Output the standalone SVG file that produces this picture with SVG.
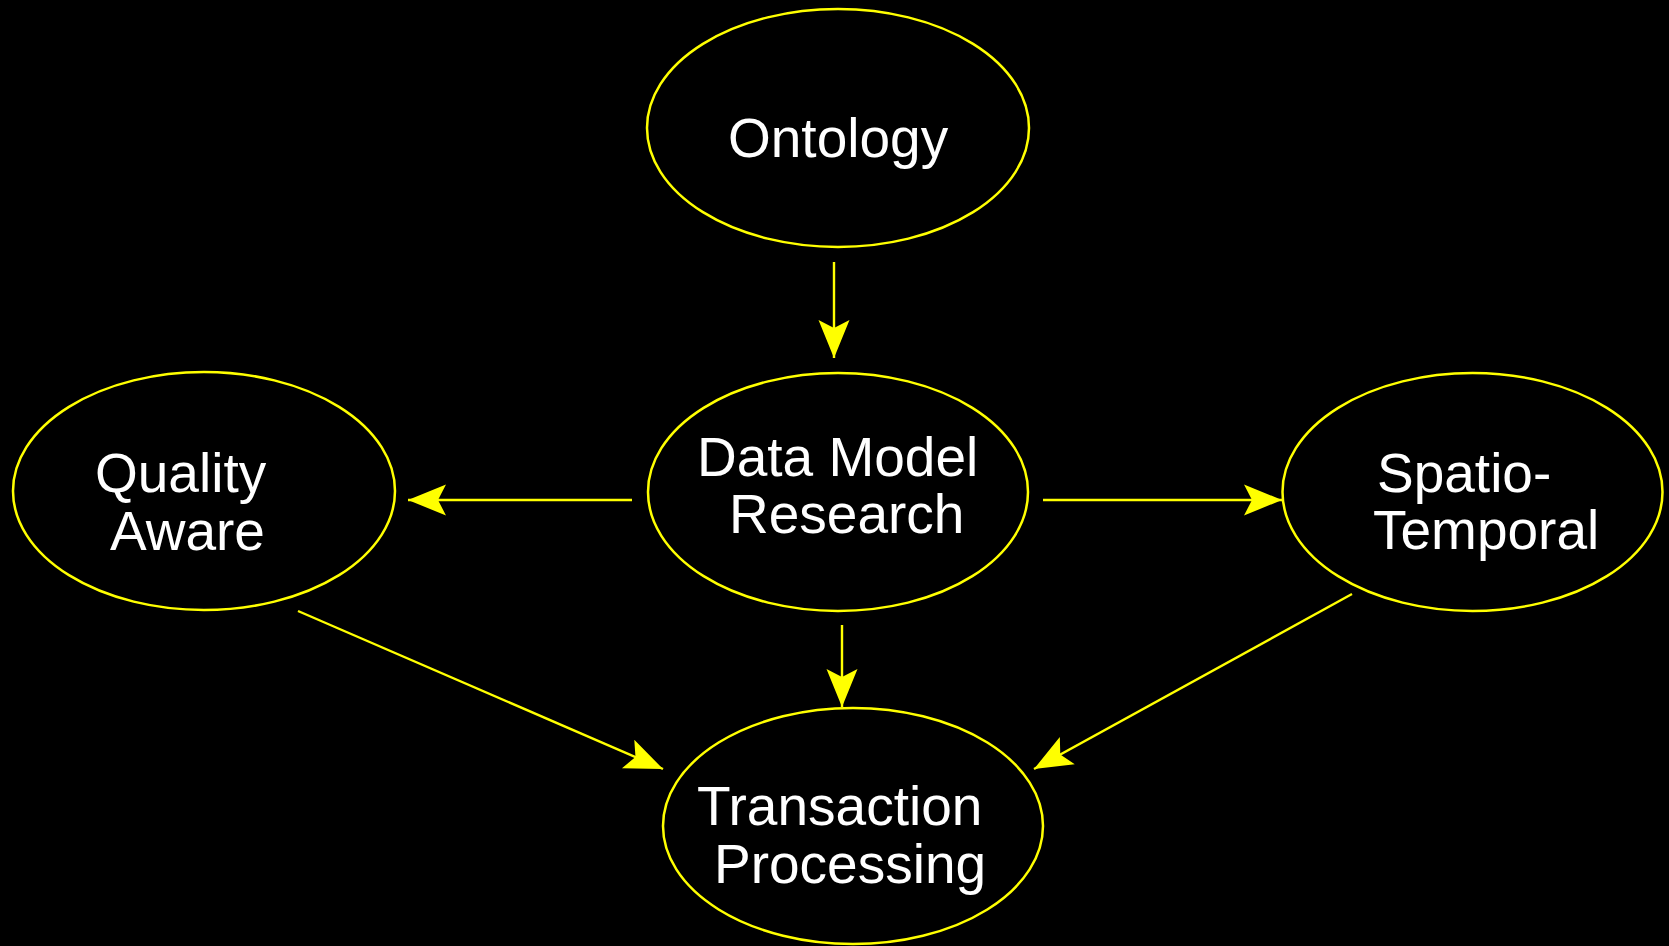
<svg xmlns="http://www.w3.org/2000/svg" width="1669" height="946" viewBox="0 0 1669 946">
<style>
.node ellipse{fill:#000;stroke:#ffff00;stroke-width:2.5}
.node text{fill:#fff;font-family:"Liberation Sans",Arial,sans-serif;font-size:55px}
.edge{stroke:#ffff00;stroke-width:2.4;fill:none;marker-end:url(#arr)}
</style>
<defs>
<marker id="arr" markerUnits="userSpaceOnUse" markerWidth="40" markerHeight="34" viewBox="-40 -17 40 34" refX="0" refY="0" orient="auto">
<path d="M0,0 L-38,-15.5 L-30,0 L-38,15.5 Z" fill="#ffff00"/>
</marker>
</defs>
<rect width="1669" height="946" fill="#000"/>
<g id="connectors">
<line class="edge" x1="834" y1="262" x2="834" y2="358"/>
<line class="edge" x1="632" y1="500" x2="408" y2="500"/>
<line class="edge" x1="1043" y1="500" x2="1282" y2="500"/>
<line class="edge" x1="842" y1="625" x2="842" y2="707"/>
<line class="edge" x1="298" y1="611" x2="663" y2="769"/>
<line class="edge" x1="1352" y1="594" x2="1034" y2="769"/>
</g>
<g id="ontology" class="node">
<ellipse cx="838" cy="128" rx="191" ry="119"/>
<text x="728" y="157">Ontology</text>
</g>
<g id="quality-aware" class="node">
<ellipse cx="204" cy="491" rx="191" ry="119"/>
<text x="95" y="492">Quality</text>
<text x="110" y="550">Aware</text>
</g>
<g id="data-model-research" class="node">
<ellipse cx="838" cy="492" rx="190" ry="119"/>
<text x="697" y="476">Data Model</text>
<text x="729" y="533">Research</text>
</g>
<g id="spatio-temporal" class="node">
<ellipse cx="1472.5" cy="492" rx="190" ry="119"/>
<text x="1377" y="492">Spatio-</text>
<text x="1373" y="549">Temporal</text>
</g>
<g id="transaction-processing" class="node">
<ellipse cx="853" cy="826" rx="190" ry="118"/>
<text x="697" y="825">Transaction</text>
<text x="714" y="883">Processing</text>
</g>
</svg>
